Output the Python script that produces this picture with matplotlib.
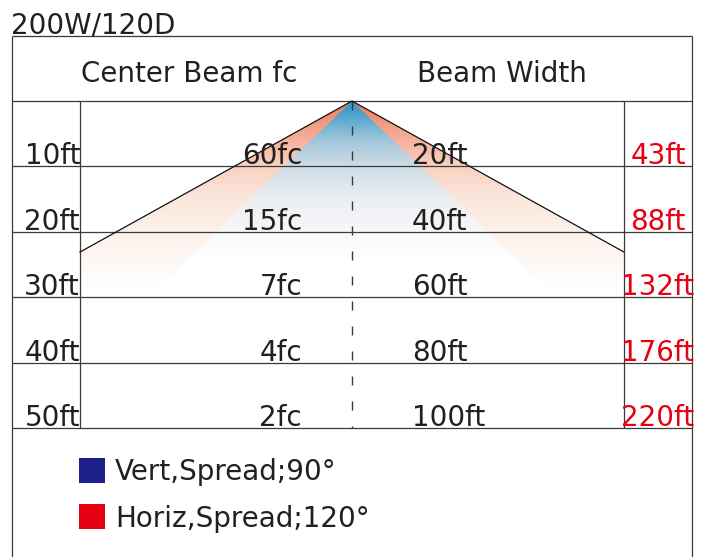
import numpy as np
import matplotlib
matplotlib.use("Agg")
import matplotlib.pyplot as plt
from matplotlib.patches import Polygon, Rectangle

# ---------------- data ----------------
title = "200W/120D"
headers = ["Center Beam fc", "Beam Width"]
distances_ft = [10, 20, 30, 40, 50]
distance_labels = ["10ft", "20ft", "30ft", "40ft", "50ft"]
center_fc = [60, 15, 7, 4, 2]
beam_width_ft = [20, 40, 60, 80, 100]
horiz_width_ft = [43, 88, 132, 176, 220]
vert_spread_deg = 90
horiz_spread_deg = 120
legend_labels = ["Vert,Spread;90°", "Horiz,Spread;120°"]
legend_colors = ["#1d2088", "#e60012"]

# ---------------- style ----------------
plt.rcParams['font.family'] = ['DejaVu Sans']
plt.rcParams['lines.scale_dashes'] = False
TXT = '#231f20'
RED_TXT = '#e60012'
LC = '#3a3a3a'
LW = 0.9
FS = 20

W, H = 709, 557
SX, SY = 6.8, 6.54          # pixels per ft (x, y)
AX_PX, AY_PX = 352, 101     # apex position in pixels

fig = plt.figure(figsize=(W / 100, H / 100), dpi=100)
ax = fig.add_axes([0, 0, 1, 1])
ax.axis('off')
xmin, xmax = -AX_PX / SX, (W - AX_PX) / SX
ybot, ytop = (H - AY_PX) / SY, -AY_PX / SY

# ---------------- gradient beams ----------------
OUT, IN, HEAD = 50, 40, -10
max_d = distances_ft[-1]

def gradient(poly_pts, stops, extent_y=34):
    ny, nx = 500, 4
    yy = np.linspace(0, extent_y, ny)
    sy = np.array([s[0] for s in stops], dtype=float)
    cols = np.stack([np.interp(yy, sy, [s[1][k] for s in stops]) for k in range(3)],
                    axis=1) / 255.0
    img = np.repeat(cols[:, None, :], nx, axis=1)
    im = ax.imshow(img, extent=(-IN, IN, extent_y, 0), origin='upper',
                   aspect='auto', interpolation='bilinear', zorder=1)
    poly = Polygon(poly_pts, closed=True, facecolor='none', edgecolor='none')
    ax.add_patch(poly)
    im.set_clip_path(poly)

h_half = np.radians(horiz_spread_deg / 2)
v_half = np.radians(vert_spread_deg / 2)
y_edge = IN / np.tan(h_half)
gradient([(0, 0), (-IN, y_edge), (-IN, 34), (IN, 34), (IN, y_edge)],
         [(0, (236, 118, 92)), (4, (242, 160, 135)), (10, (249, 210, 192)),
          (15, (251, 230, 220)), (20, (253, 241, 234)), (25, (254, 249, 246)),
          (29, (255, 255, 255)), (34, (255, 255, 255))])
vy = 34
vx = vy * np.tan(v_half)
gradient([(0, 0), (-vx, vy), (vx, vy)],
         [(0, (40, 148, 200)), (3, (95, 170, 208)), (6, (160, 198, 218)),
          (10, (206, 220, 230)), (15, (235, 238, 242)), (20, (248, 248, 249)),
          (24, (255, 255, 255)), (34, (255, 255, 255))])

# ---------------- table lines ----------------
ax.hlines([HEAD, 0] + distances_ft, -OUT, OUT, colors=LC, linewidth=LW, zorder=2)
ax.vlines([-OUT, OUT], HEAD, ybot, colors=LC, linewidth=LW, zorder=2)
ax.vlines([-IN, IN], 0, max_d, colors=LC, linewidth=LW, zorder=2)
ax.plot([0, 0], [0, max_d], color=LC, linewidth=1.0,
        linestyle=(0, (6.5, 11.5)), zorder=2)
ax.plot([-IN, 0, IN], [y_edge, 0, y_edge], color='#111111', linewidth=0.9, zorder=2)

# ---------------- text ----------------
ax.text(-50.15, -10.3, title, ha='left', va='baseline', fontsize=FS, color=TXT)
ax.text(-24.0, -2.9, headers[0], ha='center', va='baseline', fontsize=FS, color=TXT)
ax.text(22.0, -2.9, headers[1], ha='center', va='baseline', fontsize=FS, color=TXT)

for d, lab, fc, bw, hw in zip(distances_ft, distance_labels, center_fc,
                              beam_width_ft, horiz_width_ft):
    y = d - 0.3
    ax.text(-IN, y, lab, ha='right', va='baseline', fontsize=FS, color=TXT, zorder=3)
    ax.text(-7.35, y, f"{fc}fc", ha='right', va='baseline', fontsize=FS, color=TXT, zorder=3)
    ax.text(8.8, y, f"{bw}ft", ha='left', va='baseline', fontsize=FS, color=TXT, zorder=3)
    ax.text(45.0, y, f"{hw}ft", ha='center', va='baseline', fontsize=FS,
            color=RED_TXT, zorder=3)

# ---------------- legend ----------------
leg_y = [54.6, 61.6]
leg_base = [57.95, 65.1]
for lab, col, ly, lb in zip(legend_labels, legend_colors, leg_y, leg_base):
    ax.add_patch(Rectangle((-40.1, ly), 3.8, 3.8, facecolor=col, edgecolor='none', zorder=3))
    ax.text(-34.85, lb, lab, ha='left', va='baseline', fontsize=FS, color=TXT, zorder=3)

ax.set_xlim(xmin, xmax)
ax.set_ylim(ybot, ytop)

fig.savefig("out.png", dpi=100)
